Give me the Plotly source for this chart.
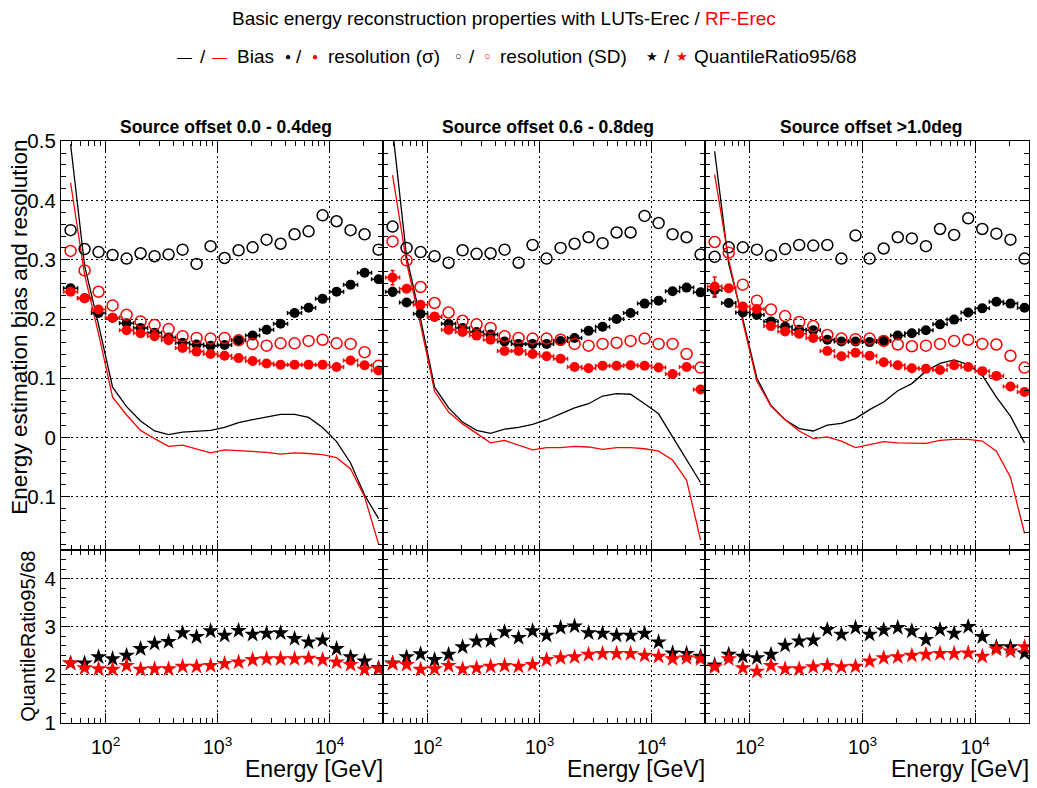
import plotly.graph_objects as go

W, H = 1037, 788

# ---------------- data ----------------
LOG_E_CENTER = [1.6875, 1.8125, 1.9375, 2.0625, 2.1875, 2.3125, 2.4375, 2.5625,
                2.6875, 2.8125, 2.9375, 3.0625, 3.1875, 3.3125, 3.4375, 3.5625,
                3.6875, 3.8125, 3.9375, 4.0625, 4.1875, 4.3125, 4.4375]
BIN_HALF_LOG = 0.0625
X_RANGE_LOG = [1.602, 4.477]
X_MAJOR = [100, 1000, 10000]
X_MAJOR_TEXT = ["10<sup>2</sup>", "10<sup>3</sup>", "10<sup>4</sup>"]
X_MINOR = [50, 60, 70, 80, 90, 200, 300, 400, 500, 600, 700, 800, 900,
           2000, 3000, 4000, 5000, 6000, 7000, 8000, 9000, 20000, 30000]

PANEL_TITLES = ["Source offset 0.0 - 0.4deg", "Source offset 0.6 - 0.8deg",
                "Source offset >1.0deg"]
LEGEND_LABELS = ["Bias", "resolution (σ)", "resolution (SD)", "QuantileRatio95/68"]
LEGEND_SYMBOLS = ["—", "●", "○", "★"]

# panel 1
P1_BIAS_LUT = [0.495, 0.29, 0.19, 0.085, 0.052, 0.028, 0.011, 0.005, 0.009, 0.010, 0.012, 0.017,
               0.025, 0.030, 0.034, 0.039, 0.039, 0.034, 0.017, -0.007, -0.043, -0.097, -0.137]
P1_BIAS_RF = [0.43, 0.275, 0.175, 0.068, 0.038, 0.012, -0.002, -0.015, -0.013, -0.019, -0.026, -0.021,
              -0.022, -0.023, -0.025, -0.028, -0.026, -0.027, -0.029, -0.034, -0.053, -0.100, -0.180]
P1_SIG_LUT = [0.252, 0.235, 0.210, 0.202, 0.193, 0.185, 0.177, 0.169, 0.160, 0.157, 0.155, 0.156,
              0.164, 0.172, 0.182, 0.192, 0.210, 0.219, 0.234, 0.246, 0.258, 0.278, 0.267]
P1_SIG_RF = [0.246, 0.235, 0.216, 0.202, 0.181, 0.176, 0.171, 0.164, 0.151, 0.145, 0.141, 0.138,
             0.134, 0.129, 0.125, 0.123, 0.123, 0.123, 0.123, 0.119, 0.130, 0.122, 0.113]
P1_SD_LUT = [0.350, 0.318, 0.313, 0.308, 0.302, 0.311, 0.306, 0.309, 0.317, 0.293, 0.323, 0.303,
             0.316, 0.321, 0.334, 0.327, 0.343, 0.348, 0.375, 0.365, 0.350, 0.343, 0.317]
P1_SD_RF = [0.315, 0.282, 0.246, 0.223, 0.207, 0.196, 0.190, 0.183, 0.171, 0.168, 0.167, 0.168,
            0.164, 0.158, 0.155, 0.159, 0.159, 0.163, 0.165, 0.159, 0.158, 0.144, 0.121]
P1_Q_LUT = [2.24, 2.24, 2.37, 2.33, 2.40, 2.54, 2.65, 2.69, 2.87, 2.79, 2.91, 2.82,
            2.92, 2.84, 2.86, 2.87, 2.75, 2.68, 2.72, 2.54, 2.37, 2.28, 2.14]
P1_Q_RF = [2.24, 2.14, 2.12, 2.11, 2.19, 2.11, 2.12, 2.12, 2.17, 2.17, 2.19, 2.23,
           2.26, 2.31, 2.33, 2.33, 2.33, 2.34, 2.31, 2.26, 2.21, 2.11, 2.12]
P1_SIG_LUT_ERR = [0.006, 0.004, 0.003] + [0.0] * 20
P1_SIG_RF_ERR = [0.006, 0.004, 0.003] + [0.0] * 20

# panel 2
P2_BIAS_LUT = [0.52, 0.305, 0.2, 0.085, 0.050, 0.026, 0.012, 0.007, 0.014, 0.017, 0.022, 0.030,
               0.040, 0.050, 0.057, 0.070, 0.074, 0.073, 0.057, 0.040, 0.001, -0.038, -0.076]
P2_BIAS_RF = [0.443, 0.295, 0.19, 0.078, 0.043, 0.023, 0.007, -0.009, -0.005, -0.013, -0.021, -0.017,
              -0.017, -0.015, -0.016, -0.020, -0.017, -0.017, -0.019, -0.023, -0.038, -0.072, -0.173]
P2_SIG_LUT = [0.246, 0.228, 0.209, 0.204, 0.192, 0.185, 0.178, 0.174, 0.162, 0.158, 0.158, 0.158,
              0.163, 0.168, 0.180, 0.187, 0.200, 0.210, 0.226, 0.231, 0.247, 0.253, 0.245]
P2_SIG_RF = [0.270, 0.251, 0.224, 0.204, 0.182, 0.178, 0.172, 0.165, 0.146, 0.146, 0.141, 0.137,
             0.133, 0.119, 0.117, 0.121, 0.121, 0.122, 0.121, 0.118, 0.107, 0.119, 0.081]
P2_SD_LUT = [0.356, 0.320, 0.313, 0.306, 0.295, 0.316, 0.310, 0.311, 0.317, 0.295, 0.325, 0.302,
             0.320, 0.327, 0.338, 0.328, 0.346, 0.346, 0.374, 0.362, 0.343, 0.338, 0.309]
P2_SD_RF = [0.331, 0.299, 0.254, 0.227, 0.211, 0.197, 0.191, 0.185, 0.171, 0.168, 0.167, 0.167,
            0.165, 0.158, 0.155, 0.158, 0.160, 0.163, 0.167, 0.158, 0.158, 0.141, 0.118]
P2_Q_LUT = [2.24, 2.37, 2.43, 2.31, 2.42, 2.58, 2.70, 2.71, 2.89, 2.77, 2.91, 2.82,
            2.98, 3.01, 2.87, 2.86, 2.82, 2.82, 2.86, 2.68, 2.45, 2.44, 2.38]
P2_Q_RF = [2.23, 2.21, 2.11, 2.12, 2.19, 2.12, 2.14, 2.17, 2.19, 2.17, 2.21, 2.31,
           2.35, 2.37, 2.42, 2.44, 2.44, 2.44, 2.40, 2.38, 2.33, 2.35, 2.33]
P2_SIG_LUT_ERR = [0.007, 0.004, 0.003] + [0.0] * 20
P2_SIG_RF_ERR = [0.012, 0.005, 0.003] + [0.0] * 20

# panel 3
P3_BIAS_LUT = [0.483, 0.293, 0.2, 0.1, 0.054, 0.030, 0.015, 0.011, 0.021, 0.024, 0.032, 0.047,
               0.060, 0.079, 0.091, 0.112, 0.125, 0.131, 0.123, 0.105, 0.068, 0.036, -0.009]
P3_BIAS_RF = [0.444, 0.30, 0.195, 0.095, 0.053, 0.030, 0.011, -0.002, 0.001, -0.006, -0.017, -0.012,
              -0.007, -0.009, -0.010, -0.010, -0.005, -0.003, -0.003, -0.006, -0.023, -0.067, -0.162]
P3_SIG_LUT = [0.249, 0.227, 0.211, 0.207, 0.196, 0.187, 0.182, 0.181, 0.165, 0.162, 0.162, 0.161,
              0.163, 0.172, 0.176, 0.181, 0.191, 0.199, 0.211, 0.218, 0.229, 0.226, 0.219]
P3_SIG_RF = [0.255, 0.252, 0.221, 0.217, 0.188, 0.179, 0.175, 0.168, 0.146, 0.137, 0.143, 0.138,
             0.127, 0.122, 0.117, 0.116, 0.114, 0.122, 0.119, 0.112, 0.104, 0.086, 0.077]
P3_SD_LUT = [0.305, 0.321, 0.321, 0.317, 0.307, 0.318, 0.325, 0.324, 0.325, 0.302, 0.341, 0.302,
             0.319, 0.338, 0.336, 0.323, 0.352, 0.342, 0.370, 0.352, 0.344, 0.334, 0.302]
P3_SD_RF = [0.330, 0.312, 0.258, 0.231, 0.216, 0.205, 0.195, 0.188, 0.173, 0.167, 0.166, 0.167,
            0.163, 0.157, 0.154, 0.155, 0.158, 0.163, 0.165, 0.158, 0.157, 0.138, 0.118]
P3_Q_LUT = [2.20, 2.42, 2.38, 2.35, 2.42, 2.61, 2.70, 2.72, 2.94, 2.84, 2.98, 2.84,
            2.93, 2.98, 2.91, 2.73, 2.94, 2.86, 3.00, 2.79, 2.58, 2.58, 2.45]
P3_Q_RF = [2.16, 2.33, 2.14, 2.07, 2.19, 2.12, 2.12, 2.16, 2.19, 2.16, 2.17, 2.28,
           2.35, 2.37, 2.40, 2.42, 2.44, 2.44, 2.45, 2.38, 2.53, 2.49, 2.58]
P3_SIG_LUT_ERR = [0.012, 0.005, 0.003] + [0.0] * 20
P3_SIG_RF_ERR = [0.016, 0.006, 0.003] + [0.0] * 20

PANELS = [
    dict(bias_lut=P1_BIAS_LUT, bias_rf=P1_BIAS_RF, sig_lut=P1_SIG_LUT, sig_rf=P1_SIG_RF,
         sd_lut=P1_SD_LUT, sd_rf=P1_SD_RF, q_lut=P1_Q_LUT, q_rf=P1_Q_RF,
         sig_lut_err=P1_SIG_LUT_ERR, sig_rf_err=P1_SIG_RF_ERR),
    dict(bias_lut=P2_BIAS_LUT, bias_rf=P2_BIAS_RF, sig_lut=P2_SIG_LUT, sig_rf=P2_SIG_RF,
         sd_lut=P2_SD_LUT, sd_rf=P2_SD_RF, q_lut=P2_Q_LUT, q_rf=P2_Q_RF,
         sig_lut_err=P2_SIG_LUT_ERR, sig_rf_err=P2_SIG_RF_ERR),
    dict(bias_lut=P3_BIAS_LUT, bias_rf=P3_BIAS_RF, sig_lut=P3_SIG_LUT, sig_rf=P3_SIG_RF,
         sd_lut=P3_SD_LUT, sd_rf=P3_SD_RF, q_lut=P3_Q_LUT, q_rf=P3_Q_RF,
         sig_lut_err=P3_SIG_LUT_ERR, sig_rf_err=P3_SIG_RF_ERR),
]

# ---------------- geometry / style ----------------
FONT = "Liberation Sans, Arial, Helvetica, sans-serif"
BLACK = "#000000"
RED = "#ff0000"
COL_PX = [(61, 383), (383, 705), (705, 1029)]
GRID_DASH = "2px,3px"


def vy(r):
    # vertical pixel placement (compensates the observed vertical mapping)
    return (r - 10.5) / 0.9734


TOP_PX = (vy(140), vy(550))
BOT_PX = (vy(550), vy(723))


def fx(p):
    return p / W


def fy(p):
    return 1 - p / H


energy = [10 ** v for v in LOG_E_CENTER]
ex_plus = [10 ** (v + BIN_HALF_LOG) - 10 ** v for v in LOG_E_CENTER]
ex_minus = [10 ** v - 10 ** (v - BIN_HALF_LOG) for v in LOG_E_CENTER]

fig = go.Figure()

for i, p in enumerate(PANELS):
    nt = i + 1
    nb = i + 4
    xt = "x" if nt == 1 else f"x{nt}"
    yt = "y" if nt == 1 else f"y{nt}"
    xb, yb = f"x{nb}", f"y{nb}"

    for vals, col in ((p["bias_lut"], BLACK), (p["bias_rf"], RED)):
        fig.add_trace(go.Scatter(x=energy, y=vals, mode="lines", xaxis=xt, yaxis=yt,
                                 line=dict(color=col, width=1.3), showlegend=False))
    for vals, err, col in ((p["sig_lut"], p["sig_lut_err"], BLACK),
                           (p["sig_rf"], p["sig_rf_err"], RED)):
        fig.add_trace(go.Scatter(
            x=energy, y=vals, mode="markers", xaxis=xt, yaxis=yt, showlegend=False,
            marker=dict(symbol="circle", size=10, color=col, line=dict(width=0)),
            error_x=dict(type="data", symmetric=False, array=ex_plus, arrayminus=ex_minus,
                         color=col, thickness=1.5, width=2),
            error_y=dict(type="data", array=err, color=col, thickness=1.5, width=2)))
    for vals, col in ((p["sd_lut"], BLACK), (p["sd_rf"], RED)):
        fig.add_trace(go.Scatter(
            x=energy, y=vals, mode="markers", xaxis=xt, yaxis=yt, showlegend=False,
            marker=dict(symbol="circle-open", size=11, color=col, line=dict(width=1.5, color=col))))
    for vals, col in ((p["q_lut"], BLACK), (p["q_rf"], RED)):
        fig.add_trace(go.Scatter(
            x=energy, y=vals, mode="markers", xaxis=xb, yaxis=yb, showlegend=False,
            marker=dict(symbol="star", size=12.5, color=col, line=dict(width=0))))

layout = dict(
    width=W, height=H,
    margin=dict(l=0, r=0, t=0, b=0),
    paper_bgcolor="white", plot_bgcolor="white",
    font=dict(family=FONT, color=BLACK, size=19),
    showlegend=False,
)

xcommon = dict(
    type="log", range=X_RANGE_LOG,
    tickmode="array", tickvals=X_MAJOR, ticktext=X_MAJOR_TEXT,
    ticks="inside", ticklen=10, tickwidth=1, tickcolor=BLACK,
    showline=True, linecolor=BLACK, linewidth=1.2, mirror="allticks",
    showgrid=True, gridcolor=BLACK, gridwidth=1, griddash=GRID_DASH,
    zeroline=False,
    minor=dict(tickmode="array", tickvals=X_MINOR, ticks="inside", ticklen=5,
               tickcolor=BLACK, tickwidth=1, showgrid=False),
)

for i in range(3):
    nt, nb = i + 1, i + 4
    dom = [fx(COL_PX[i][0]), fx(COL_PX[i][1])]
    kt = "xaxis" if nt == 1 else f"xaxis{nt}"
    layout[kt] = dict(xcommon, domain=dom, anchor="y" if nt == 1 else f"y{nt}",
                      showticklabels=False)
    layout[f"xaxis{nb}"] = dict(xcommon, domain=dom, anchor=f"y{nb}", showticklabels=True,
                                ticklabelstandoff=7,
                                tickfont=dict(size=19.5, family=FONT))
    ykt = "yaxis" if nt == 1 else f"yaxis{nt}"
    layout[ykt] = dict(
        domain=[fy(TOP_PX[1]), fy(TOP_PX[0])], anchor=kt.replace("axis", ""),
        range=[-0.19, 0.5002], tickmode="linear", tick0=0, dtick=0.1,
        ticks="inside", ticklen=9, tickcolor=BLACK, tickwidth=1,
        showline=True, linecolor=BLACK, linewidth=1.2, mirror="allticks",
        showgrid=True, gridcolor=BLACK, gridwidth=1, griddash=GRID_DASH, zeroline=False,
        showticklabels=(i == 0), tickfont=dict(size=20.5, family=FONT),
        minor=dict(tick0=0, dtick=0.02, ticks="inside", ticklen=5, tickcolor=BLACK,
                   showgrid=False),
    )
    layout[f"yaxis{nb}"] = dict(
        domain=[fy(BOT_PX[1]), fy(BOT_PX[0])], anchor=f"x{nb}",
        range=[1, 4.6], tickmode="linear", tick0=0, dtick=1,
        ticks="inside", ticklen=9, tickcolor=BLACK, tickwidth=1,
        showline=True, linecolor=BLACK, linewidth=1.2, mirror="allticks",
        showgrid=True, gridcolor=BLACK, gridwidth=1, griddash=GRID_DASH, zeroline=False,
        showticklabels=(i == 0), tickfont=dict(size=20.5, family=FONT),
        minor=dict(tick0=0, dtick=0.2, ticks="inside", ticklen=5, tickcolor=BLACK,
                   showgrid=False),
    )

annotations = []


def add_text(text, xp, yp, size, color=BLACK, xanchor="center", yanchor="middle", angle=0):
    annotations.append(dict(text=text, x=fx(xp), y=fy(vy(yp)), xref="paper", yref="paper",
                            xanchor=xanchor, yanchor=yanchor, showarrow=False, textangle=angle,
                            font=dict(size=size, family=FONT, color=color)))


add_text("Basic energy reconstruction properties with LUTs-Erec / "
         "<span style='color:#ff0000'>RF-Erec</span>", 504, 17, 19)

# legend row: (black symbol centre, slash centre, red symbol centre, label left, symbol size)
LEG_POS = [(184.5, 203, 219, 235, 15), (287.5, 299, 315, 326, 10),
           (458, 471.5, 487, 498, 11), (652, 666.5, 682, 692, 13)]
for (xs, xsl, xr, xl, ss), sym, lab in zip(LEG_POS, LEGEND_SYMBOLS, LEGEND_LABELS):
    add_text(sym, xs, 55, ss, BLACK)
    add_text("/", xsl, 55, 19, BLACK)
    add_text(sym, xr, 55, ss, RED)
    add_text(lab, xl, 55, 19, BLACK, xanchor="left")

for i, t in enumerate(PANEL_TITLES):
    cx = (COL_PX[i][0] + COL_PX[i][1]) / 2 + 4
    add_text(f"<b>{t}</b>", cx, 126, 17.5)
    add_text("Energy [GeV]", COL_PX[i][1] + 2, 770, 23, xanchor="right")

add_text("Energy estimation bias and resolution", 20, 327, 22.5, angle=-90)
add_text("QuantileRatio95/68", 28, 637, 20, angle=-90)

layout["annotations"] = annotations
fig.update_layout(**layout)

fig.write_html("out.html")
